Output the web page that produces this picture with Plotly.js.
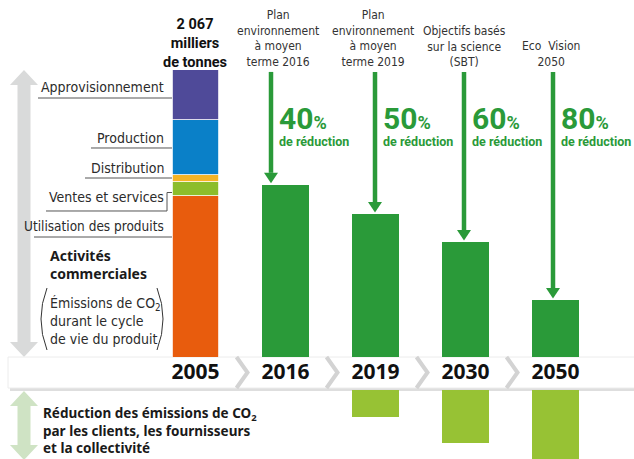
<!DOCTYPE html>
<html>
<head>
<meta charset="utf-8">
<script src="https://cdn.plot.ly/plotly-3.0.1.min.js"></script>
<style>html,body{margin:0;padding:0;background:#fff;}#chart{width:634px;height:459px;}</style>
</head>
<body>
<div id="chart"></div>
<script>
// ---------- DATA ----------
const years = ['2005', '2016', '2019', '2030', '2050'];
const segmentNames = ['Utilisation des produits', 'Ventes et services', 'Distribution', 'Production', 'Approvisionnement'];
const segmentValues2005 = [1160, 101, 50, 396, 360];           // milliers de tonnes
const targetYears = ['2016', '2019', '2030', '2050'];
const targetValues = [1240, 1030, 828, 410];                    // activités commerciales
const reductionPct = [40, 50, 60, 80];
const targetPlans = ['Plan<br>environnement<br>à moyen<br>terme 2016',
                     'Plan<br>environnement<br>à moyen<br>terme 2019',
                     'Objectifs basés<br>sur la science<br>(SBT)',
                     'Eco\u00a0 Vision<br>2050'];
const partnerYears = ['2019', '2030', '2050'];
const partnerValues = [195, 380, 500];                          // réduction par les clients etc.

// ---------- STYLE ----------
const W = 634, H = 459;
const px = x => x / W;
const py = y => (H - y) / H;
const UNIT = 2571 / 357;   // data units per pixel on the upper axis
const segColors = ['#e85c0d', '#8cbd2b', '#f6b425', '#0a80c8', '#4f4a99'];
const GREEN = '#2a9a39', LIGHTGREEN = '#97c234';
const NARROW = '"Liberation Sans Narrow", "DejaVu Sans Condensed", "Roboto", sans-serif';
const total2005 = segmentValues2005.reduce((a, b) => a + b, 0);
const fmt = n => String(n).replace(/\B(?=(\d{3})+(?!\d))/g, '\u00a0');

const traces = [];
segmentNames.forEach((n, i) => traces.push({
  type: 'bar', name: n, x: ['2005'], y: [segmentValues2005[i]], width: 0.52,
  marker: {color: segColors[i], line: {color: '#ffffff', width: 0.8}},
  hoverinfo: 'name+y', showlegend: false
}));
traces.push({type: 'bar', x: targetYears, y: targetValues, width: 0.52,
  marker: {color: GREEN}, showlegend: false});
traces.push({type: 'bar', x: partnerYears, y: partnerValues, width: 0.52, yaxis: 'y2',
  marker: {color: LIGHTGREEN}, showlegend: false});

const P = pts => 'M' + pts.map(([x, y]) => px(x).toFixed(5) + ',' + py(y).toFixed(5)).join('L') + 'Z';
const L = pts => 'M' + pts.map(([x, y]) => px(x).toFixed(5) + ',' + py(y).toFixed(5)).join('L');
const shapes = [];
const sp = (path, extra) => shapes.push(Object.assign({type: 'path', xref: 'paper', yref: 'paper', path: path, layer: 'below'}, extra));

// grey double arrow
sp(P([[24,70],[38,85],[30.5,85],[30.5,342],[38,342],[24,357],[10,342],[17.5,342],[17.5,85],[10,85]]), {fillcolor: '#d9dada', line: {width: 0}});
// light green double arrow
sp(P([[24,391],[38,406],[30.5,406],[30.5,445],[38,445],[24,460],[10,445],[17.5,445],[17.5,406],[10,406]]), {fillcolor: '#cfe3c4', line: {width: 0}});
// axis band shadow + band
sp(P([[10,359],[636,359],[636,391],[10,391]]), {fillcolor: '#dedede', line: {width: 0}});
sp(P([[8,357],[636,357],[636,388],[8,388]]), {fillcolor: '#ffffff', line: {color: '#ececec', width: 1}});
// chevrons
[240.5, 330.5, 420.5, 510.5].forEach(b => sp(L([[b-4,357],[b+7,372.5],[b-4,388]]), {line: {color: '#d3d3d3', width: 4}}));
// label leader lines
const LINE = {color: '#555555', width: 1};
sp(L([[38,98],[172,98]]), {line: LINE});
sp(L([[91,148],[172,148]]), {line: LINE});
sp(L([[85,178],[172,178]]), {line: LINE});
sp(L([[46,211],[167,211],[167,192.5],[172,192.5]]), {line: LINE});
sp(L([[34,237],[172,237]]), {line: LINE});
// parentheses
shapes.push({type: 'path', xref: 'paper', yref: 'paper', layer: 'below', line: {color: '#333', width: 1},
  path: 'M' + px(47) + ',' + py(288) + ' Q' + px(35) + ',' + py(319) + ' ' + px(47) + ',' + py(350)});
shapes.push({type: 'path', xref: 'paper', yref: 'paper', layer: 'below', line: {color: '#333', width: 1},
  path: 'M' + px(157) + ',' + py(288) + ' Q' + px(169) + ',' + py(319) + ' ' + px(157) + ',' + py(350)});

const ann = [];
const A = (o) => ann.push(Object.assign({showarrow: false, xref: 'paper', yref: 'paper'}, o));
// left labels
const leftLabels = [['Approvisionnement', 87, 14], ['Production', 138, 14], ['Distribution', 168, 14],
                    ['Ventes et services', 197, 14], ['Utilisation des produits', 226, 13.5]];
leftLabels.forEach(([t, y, s]) => A({text: t, x: px(166), xanchor: 'right', y: py(y), yanchor: 'middle',
  font: {family: NARROW, size: s, color: '#2b2b2b'}}));
A({text: 'Activités<br>commerciales', x: px(48), xanchor: 'left', y: py(264), yanchor: 'middle', align: 'left',
  font: {family: 'Noto Sans', size: 14, color: '#1a1a1a', weight: 'bold'}});
A({text: 'Émissions de CO<sub>2</sub><br>durant le cycle<br>de vie du produit', x: px(48), xanchor: 'left', y: py(321), yanchor: 'middle', align: 'left',
  font: {family: NARROW, size: 14, color: '#2b2b2b'}});
A({text: 'Réduction des émissions de CO<sub>2</sub><br>par les clients, les fournisseurs<br>et la collectivité', x: px(41), xanchor: 'left', y: py(430), yanchor: 'middle', align: 'left',
  font: {family: 'Noto Sans', size: 13.5, color: '#1a1a1a', weight: 'bold'}});
// total label above 2005 bar
A({text: fmt(total2005) + '<br>milliers<br>de tonnes', xref: 'x', x: 0, xanchor: 'center',
  y: py(43), yanchor: 'middle', align: 'center', font: {family: 'Roboto', size: 14.5, color: '#111', weight: 'bold'}});
// target plans, arrows and percentages
const arrowPx = [271, 375, 464, 553];
const planX = [278, 373, 464, 551];
const arrowTopValue = 2053;
targetYears.forEach((yr, i) => {
  A({text: targetPlans[i], x: px(planX[i]), xanchor: 'center', y: py(71), yanchor: 'bottom', align: 'center',
     font: {family: NARROW, size: 12, color: '#333'}});
  const headLen = 12 * UNIT;
  shapes.push({type: 'line', xref: 'paper', yref: 'y', x0: px(arrowPx[i]), x1: px(arrowPx[i]),
     y0: arrowTopValue, y1: targetValues[i] + headLen, line: {color: GREEN, width: 4.5}});
  shapes.push({type: 'path', xref: 'paper', yref: 'y', fillcolor: GREEN, line: {width: 0},
     path: 'M' + px(arrowPx[i] - 7) + ',' + (targetValues[i] + headLen) + 'L' + px(arrowPx[i] + 7) + ',' +
           (targetValues[i] + headLen) + 'L' + px(arrowPx[i]) + ',' + (targetValues[i] + 1.5 * UNIT) + 'Z'});
  const left = arrowPx[i] + 6;
  A({text: reductionPct[i] + '<span style="font-size:18px">%</span>', x: px(left), xanchor: 'left', y: py(118), yanchor: 'middle',
     font: {family: 'Roboto', size: 30, color: GREEN, weight: 'bold'}});
  A({text: 'de réduction', x: px(left), xanchor: 'left', y: py(141), yanchor: 'middle',
     font: {family: 'Roboto', size: 12.5, color: GREEN, weight: 'bold'}});
});

const layout = {
  width: W, height: H, autosize: false,
  margin: {l: 0, r: 0, t: 0, b: 0, pad: 0},
  paper_bgcolor: '#ffffff', plot_bgcolor: 'rgba(0,0,0,0)',
  barmode: 'stack', showlegend: false,
  xaxis: {type: 'category', categoryorder: 'array', categoryarray: years, range: [-2.172, 4.872],
    domain: [0, 1], anchor: 'y', showgrid: false, zeroline: false, showline: false, ticks: '',
    ticklabelstandoff: 0, tickfont: {family: 'Noto Sans', size: 21, color: '#111', weight: 'bold'}, fixedrange: true},
  yaxis: {domain: [(H - 357) / H, 1], range: [0, 2571], visible: false, fixedrange: true},
  yaxis2: {domain: [0, (H - 390) / H], range: [497, 0], visible: false, anchor: 'x', fixedrange: true},
  shapes: shapes, annotations: ann
};
Plotly.newPlot('chart', traces, layout, {displayModeBar: false, staticPlot: true});
</script>
</body>
</html>
